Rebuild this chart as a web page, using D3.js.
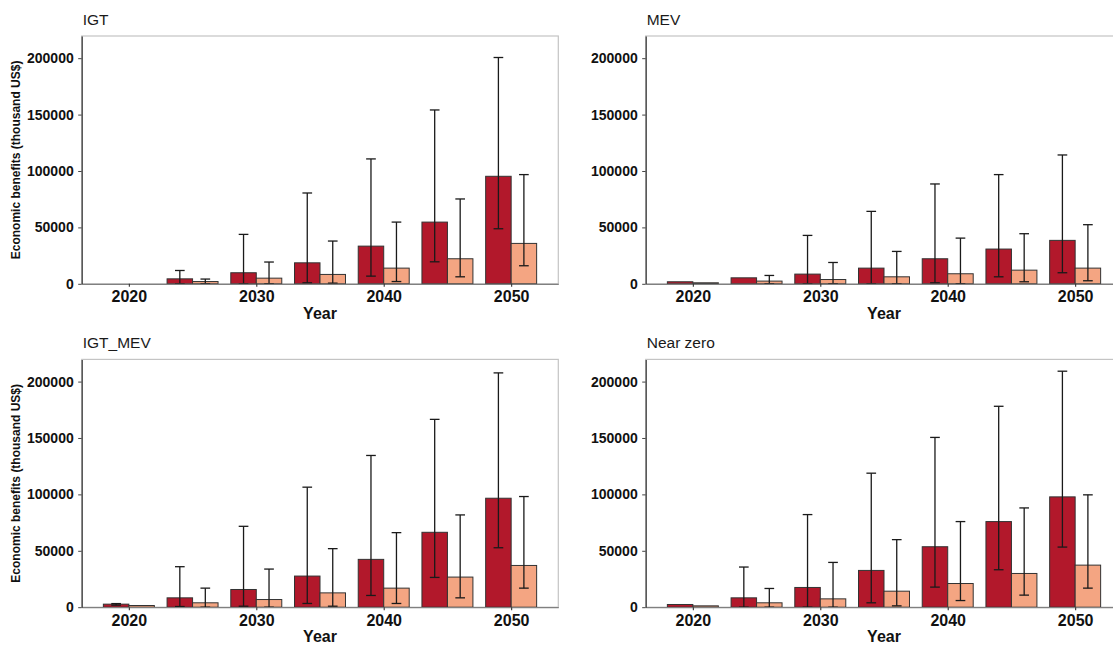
<!DOCTYPE html>
<html>
<head>
<meta charset="utf-8">
<script src="https://cdn.jsdelivr.net/npm/d3@7"></script>
<style>
  html, body { margin: 0; padding: 0; background: #fff; }
  svg { display: block; font-family: "Liberation Sans", Arial, sans-serif; }
</style>
</head>
<body>
<svg id="chart" width="1113" height="646"></svg>
<script>
// Years on the x axis and the labelled ticks
const years = [2020, 2025, 2030, 2035, 2040, 2045, 2050];
const xTickYears = [2020, 2030, 2040, 2050];
const yTickValues = [0, 50000, 100000, 150000, 200000];
const panelNames = ["IGT", "MEV", "IGT_MEV", "Near zero"];

// Scenario A (dark bars): mean and interval bounds, thousand US$
const igtA    = [null, 4400, 9800, 18600, 33400, 54700, 95300];
const igtALo  = [null, 0, 0, 900, 6800, 19500, 48800];
const igtAHi  = [null, 11800, 43800, 80500, 110700, 154100, 200600];
// Scenario B (light bars)
const igtB    = [null, 2000, 5000, 8300, 13900, 22200, 35800];
const igtBLo  = [null, 0, 0, 600, 2000, 6200, 16000];
const igtBHi  = [null, 4200, 19300, 37900, 54700, 75200, 96800];

const mevA    = [1800, 5300, 8600, 13900, 22200, 30800, 38500];
const mevALo  = [null, null, 0, 0, 900, 6200, 9800];
const mevAHi  = [null, null, 42900, 64200, 88500, 96800, 114200];
const mevB    = [900, 2400, 3800, 6200, 8900, 12100, 13900];
const mevBLo  = [null, 0, 0, 0, 0, 1800, 2700];
const mevBHi  = [null, 7400, 18900, 28700, 40500, 44400, 52400];

const igtMevA   = [2700, 8300, 15700, 27600, 42400, 66400, 96600];
const igtMevALo = [1800, 600, 900, 3300, 10400, 26400, 52700];
const igtMevAHi = [3200, 35900, 71700, 106400, 134500, 166500, 207700];
const igtMevB   = [1500, 3900, 6800, 12700, 16900, 26700, 37000];
const igtMevBLo = [null, 0, 0, 900, 3300, 8300, 16900];
const igtMevBHi = [null, 16900, 33800, 51900, 66100, 81800, 98100];

const nearZeroA   = [2400, 8300, 17500, 32600, 53600, 75900, 97800];
const nearZeroALo = [null, 0, 0, 3900, 17800, 33200, 53300];
const nearZeroAHi = [null, 35600, 82100, 118800, 150500, 178100, 209200];
const nearZeroB   = [1200, 3900, 7400, 14200, 21000, 29900, 37300];
const nearZeroBLo = [null, 0, 0, 1200, 5900, 10700, 16900];
const nearZeroBHi = [null, 16600, 39700, 59900, 75900, 88000, 99600];

const seriesByPanel = [
  { a: [igtA, igtALo, igtAHi], b: [igtB, igtBLo, igtBHi] },
  { a: [mevA, mevALo, mevAHi], b: [mevB, mevBLo, mevBHi] },
  { a: [igtMevA, igtMevALo, igtMevAHi], b: [igtMevB, igtMevBLo, igtMevBHi] },
  { a: [nearZeroA, nearZeroALo, nearZeroAHi], b: [nearZeroB, nearZeroBLo, nearZeroBHi] }
];

const colorA = "#b2182b";
const colorB = "#f4a582";

// Shared y range across panels (5% headroom above the largest upper bound)
const allHi = seriesByPanel.flatMap(p => p.a[2].concat(p.b[2])).filter(v => v != null);
const yMax = d3.max(allHi) * 1.05;

// Panel frames: [left, top]
const panelW = 476.6, panelH = 247.8;
const frames = [[81.7, 36], [645.7, 36], [81.7, 359.4], [645.7, 359.4]];

const svg = d3.select("#chart");

const barHalf = 2;      // each bar spans 2 years
const capHalf = 0.38;   // error bar cap half-width in years

panelNames.forEach((name, i) => {
  const [left, top] = frames[i];
  const g = svg.append("g").attr("transform", `translate(${left},${top})`);

  const x = d3.scaleLinear().domain([2016.3, 2053.7]).range([0, panelW]);
  const y = d3.scaleLinear().domain([0, yMax]).range([panelH, 0]);

  // Panel outline
  g.append("rect")
    .attr("x", 0).attr("y", 0).attr("width", panelW).attr("height", panelH)
    .attr("fill", "none").attr("stroke", "#c4c4c4").attr("stroke-width", 1.2);

  const s = seriesByPanel[i];
  const rows = years.map((yr, k) => ({
    yr,
    a: s.a[0][k], aLo: s.a[1][k], aHi: s.a[2][k],
    b: s.b[0][k], bLo: s.b[1][k], bHi: s.b[2][k]
  }));

  // Bars
  const barData = [];
  rows.forEach(r => {
    if (r.a != null) barData.push({ x0: r.yr - barHalf, x1: r.yr, v: r.a, c: colorA });
    if (r.b != null) barData.push({ x0: r.yr, x1: r.yr + barHalf, v: r.b, c: colorB });
  });
  g.selectAll("rect.bar").data(barData).join("rect")
    .attr("class", "bar")
    .attr("x", d => x(d.x0))
    .attr("width", d => x(d.x1) - x(d.x0))
    .attr("y", d => y(d.v))
    .attr("height", d => y(0) - y(d.v))
    .attr("fill", d => d.c)
    .attr("stroke", "#333")
    .attr("stroke-width", 1);

  // Error bars
  const errData = [];
  rows.forEach(r => {
    if (r.aLo != null && r.aHi != null) errData.push({ cx: r.yr - 1, lo: r.aLo, hi: r.aHi });
    if (r.bLo != null && r.bHi != null) errData.push({ cx: r.yr + 1, lo: r.bLo, hi: r.bHi });
  });
  const eg = g.selectAll("g.err").data(errData).join("g").attr("class", "err")
    .attr("stroke", "#1a1a1a").attr("stroke-width", 1.3).attr("fill", "none");
  eg.append("line")
    .attr("x1", d => x(d.cx)).attr("x2", d => x(d.cx))
    .attr("y1", d => y(d.lo)).attr("y2", d => y(d.hi));
  eg.append("line")
    .attr("x1", d => x(d.cx - capHalf)).attr("x2", d => x(d.cx + capHalf))
    .attr("y1", d => y(d.hi)).attr("y2", d => y(d.hi));
  eg.append("line")
    .attr("x1", d => x(d.cx - capHalf)).attr("x2", d => x(d.cx + capHalf))
    .attr("y1", d => y(d.lo)).attr("y2", d => y(d.lo));

  // X axis
  const xAxis = g.append("g").attr("transform", `translate(0,${panelH})`)
    .call(d3.axisBottom(x).tickValues(xTickYears).tickFormat(d3.format("d"))
      .tickSize(3).tickPadding(4).tickSizeOuter(0));
  xAxis.select(".domain").attr("stroke", "#808080").attr("stroke-width", 1.3);
  xAxis.selectAll(".tick line").attr("stroke", "#333").attr("stroke-width", 1.1);
  xAxis.selectAll(".tick text")
    .attr("fill", "#111").attr("font-size", 16).attr("font-weight", "bold")
    .attr("font-family", "Liberation Sans, Arial, sans-serif");

  // Y axis
  const yAxis = g.append("g")
    .call(d3.axisLeft(y).tickValues(yTickValues).tickFormat(d3.format("d"))
      .tickSize(3.5).tickPadding(4.5).tickSizeOuter(0));
  yAxis.select(".domain").attr("stroke", "#333").attr("stroke-width", 1.2);
  yAxis.selectAll(".tick line").attr("stroke", "#444").attr("stroke-width", 1);
  yAxis.selectAll(".tick text")
    .attr("fill", "#111").attr("font-size", 14).attr("font-weight", "bold")
    .attr("font-family", "Liberation Sans, Arial, sans-serif");

  // Panel title
  g.append("text")
    .attr("x", 1).attr("y", -11)
    .attr("font-size", 15.5).attr("fill", "#1a1a1a")
    .text(name);

  // X axis title
  g.append("text")
    .attr("x", panelW / 2).attr("y", panelH + 35)
    .attr("text-anchor", "middle")
    .attr("font-size", 16).attr("font-weight", "bold").attr("fill", "#111")
    .text("Year");

  // Y axis title on the left column only
  if (i % 2 === 0) {
    svg.append("text")
      .attr("transform", `translate(20,${top + panelH / 2}) rotate(-90)`)
      .attr("text-anchor", "middle")
      .attr("font-size", 12).attr("font-weight", "bold").attr("fill", "#111")
      .text("Economic benefits (thousand US$)");
  }
});
</script>
</body>
</html>
